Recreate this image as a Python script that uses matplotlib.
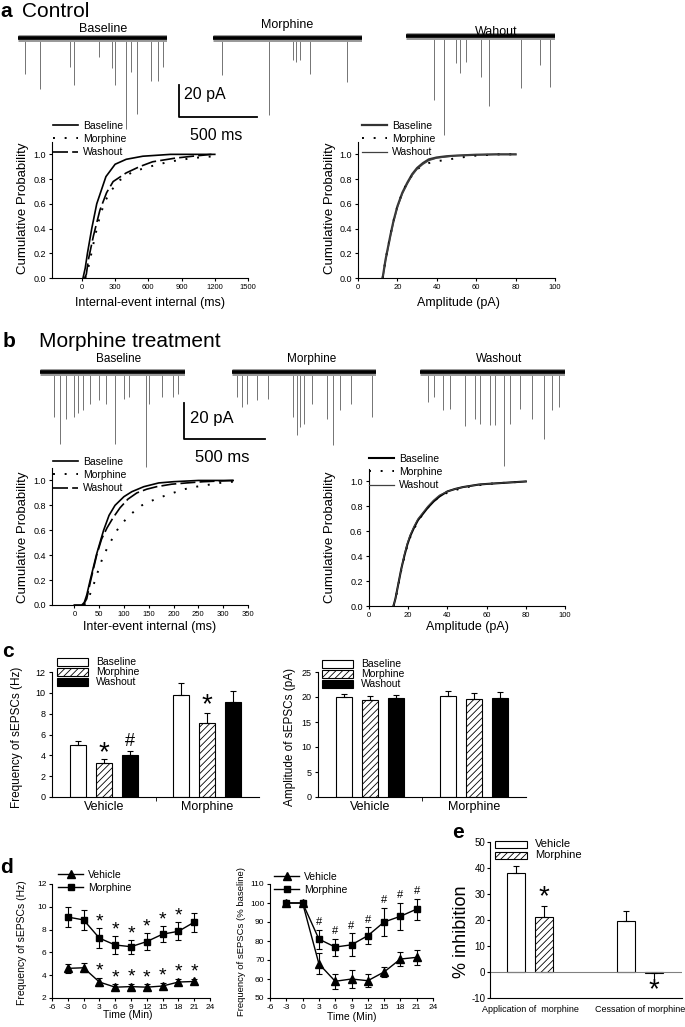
import numpy as np
import matplotlib.pyplot as plt
from matplotlib.patches import Rectangle
from matplotlib.lines import Line2D
from matplotlib.ticker import FormatStrFormatter

plt.rcParams['font.family'] = ['Liberation Sans', 'DejaVu Sans']
plt.rcParams['hatch.linewidth'] = 0.6
plt.rcParams['axes.linewidth'] = 0.8
plt.rcParams['axes.facecolor'] = 'none'
plt.rcParams['axes.unicode_minus'] = False

W, H = 685, 1027

conds = ['Baseline', 'Morphine', 'Washout']

# ---- sample sweeps: event time (ms from sweep start), event amplitude (pA)
a_base_t = [51, 147, 338, 360, 520, 605, 624, 698, 726, 768, 858, 900, 934]
a_base_amp = [22.7, 31.7, 18, 29.6, 11.9, 19, 29.6, 56.7, 21, 47.3, 26.9, 26.9, 18]
a_mor_t = [62, 360, 512, 535, 562, 624, 858]
a_mor_amp = [23.3, 48.3, 14, 15, 14, 22.3, 27.5]
a_wash_t = [183, 245, 323, 351, 385, 483, 534, 739, 863, 928]
a_wash_amp = [40, 62, 17, 23.3, 16, 25.4, 44, 32.7, 18, 32]

b_base_t = [81, 124, 157, 205, 232, 265, 306, 360, 406, 460, 514, 549, 652, 671, 752, 820, 847]
b_base_amp = [25, 39.8, 26, 25, 23, 21, 17.6, 15.7, 17.6, 39.8, 14.8, 13.9, 52.8, 17.6, 13.9, 13.9, 12]
b_mor_t = [32, 65, 92, 154, 227, 379, 406, 425, 444, 498, 588, 623, 669, 736, 866]
b_mor_amp = [13.9, 19.4, 17.6, 15.7, 14.8, 25, 35.2, 30.6, 28.7, 17.6, 25.9, 40.7, 21.3, 17.6, 25]
b_wash_t = [46, 86, 141, 181, 276, 336, 371, 433, 460, 520, 555, 614, 688, 764, 812, 858]
b_wash_amp = [16.7, 13.9, 21.3, 20.4, 30, 25.9, 28.7, 29.6, 29.6, 52, 28.7, 20.4, 25.9, 37, 21.3, 19.4]

# ---- cumulative distributions
a_isi_base_x = [10, 30, 50, 89, 134, 217, 300, 400, 550, 800, 1200]
a_isi_base_y = [0, 0.08, 0.2, 0.4, 0.6, 0.82, 0.92, 0.96, 0.985, 1.0, 1.0]
a_isi_mor_x = [30, 45, 74, 119, 163, 208, 267, 341, 460, 608, 786, 994, 1200]
a_isi_mor_y = [0, 0.03, 0.15, 0.34, 0.5, 0.62, 0.71, 0.79, 0.86, 0.9, 0.94, 0.97, 0.985]
a_isi_wash_x = [25, 40, 59, 104, 163, 223, 282, 400, 519, 638, 846, 1000, 1170]
a_isi_wash_y = [0, 0.03, 0.15, 0.34, 0.55, 0.69, 0.78, 0.85, 0.9, 0.94, 0.97, 0.985, 1.0]

a_amp_x = [12.5, 13, 14, 15, 16.5, 18, 20, 22.5, 25, 27.5, 30, 33, 36, 40, 45, 50, 60, 70, 80]
a_amp_base_y = [0, 0.05, 0.15, 0.23, 0.35, 0.46, 0.58, 0.69, 0.77, 0.84, 0.89, 0.93, 0.96, 0.975, 0.985, 0.99, 0.997, 1.0, 1.0]
a_amp_mor_y = [0, 0.05, 0.15, 0.23, 0.35, 0.46, 0.58, 0.69, 0.77, 0.83, 0.88, 0.91, 0.93, 0.945, 0.955, 0.97, 0.99, 1.0, 1.0]
a_amp_wash_y = [0, 0.04, 0.14, 0.22, 0.34, 0.45, 0.57, 0.68, 0.76, 0.83, 0.88, 0.92, 0.95, 0.97, 0.98, 0.99, 0.997, 1.0, 1.0]

b_isi_base_x = [0, 15, 20, 25, 32, 45, 59, 70, 82, 100, 116, 140, 170, 200, 250, 320]
b_isi_base_y = [0, 0.0, 0.02, 0.08, 0.2, 0.41, 0.6, 0.72, 0.8, 0.87, 0.91, 0.95, 0.98, 0.99, 1.0, 1.0]
b_isi_mor_x = [20, 28, 35, 42, 50, 59, 72, 86, 96, 106, 120, 136, 152, 169, 185, 199, 222, 246, 270, 293, 320]
b_isi_mor_y = [0, 0.05, 0.12, 0.2, 0.3, 0.4, 0.5, 0.6, 0.65, 0.7, 0.75, 0.8, 0.83, 0.86, 0.88, 0.9, 0.93, 0.95, 0.965, 0.98, 0.99]
b_isi_wash_x = [18, 25, 32, 45, 55, 66, 78, 92, 108, 126, 146, 166, 196, 226, 260, 320]
b_isi_wash_y = [0, 0.05, 0.18, 0.4, 0.53, 0.62, 0.7, 0.78, 0.85, 0.9, 0.93, 0.95, 0.97, 0.98, 0.99, 1.0]

b_amp_x = [12.5, 13.5, 15, 16.5, 18, 19.5, 21, 23, 25, 27.5, 30, 33, 36, 40, 44, 48, 52, 56, 60, 70, 80]
b_amp_base_y = [0, 0.06, 0.18, 0.3, 0.4, 0.49, 0.56, 0.63, 0.69, 0.74, 0.79, 0.84, 0.88, 0.92, 0.94, 0.955, 0.965, 0.975, 0.98, 0.99, 1.0]
b_amp_mor_y = [0, 0.05, 0.17, 0.29, 0.39, 0.48, 0.55, 0.62, 0.68, 0.74, 0.79, 0.84, 0.88, 0.91, 0.93, 0.95, 0.96, 0.97, 0.98, 0.99, 1.0]
b_amp_wash_y = [0, 0.06, 0.18, 0.3, 0.41, 0.5, 0.57, 0.64, 0.7, 0.75, 0.8, 0.85, 0.89, 0.92, 0.94, 0.955, 0.965, 0.975, 0.98, 0.99, 1.0]

# ---- c: mean +- SEM
groups = ['Vehicle', 'Morphine']
freq_veh = [4.95, 3.3, 4.05]
freq_veh_err = [0.45, 0.35, 0.38]
freq_mor = [9.8, 7.1, 9.15]
freq_mor_err = [1.15, 1.0, 1.0]
amp_veh = [20.1, 19.4, 19.75]
amp_veh_err = [0.6, 0.85, 0.65]
amp_mor = [20.15, 19.65, 19.9]
amp_mor_err = [1.1, 1.1, 1.2]

# ---- d: time course
time_min = [-3, 0, 3, 6, 9, 12, 15, 18, 21]
d_veh_hz = [4.6, 4.65, 3.4, 2.95, 3.0, 2.95, 3.05, 3.4, 3.45]
d_veh_hz_err = [0.4, 0.4, 0.35, 0.25, 0.25, 0.25, 0.25, 0.25, 0.25]
d_mor_hz = [9.1, 8.85, 7.25, 6.65, 6.5, 6.95, 7.6, 7.85, 8.65]
d_mor_hz_err = [0.9, 0.9, 0.85, 0.75, 0.6, 0.75, 0.7, 0.8, 0.85]
d_veh_pct = [100, 100, 68, 58.8, 60, 59.1, 63.7, 70.5, 71.4]
d_veh_pct_err = [0, 0, 5.5, 4, 4.5, 3.5, 2.5, 3.5, 4]
d_mor_pct = [100, 100, 81, 76.8, 78, 82.8, 90, 93, 96.8]
d_mor_pct_err = [0, 0, 5, 4.5, 6, 4.5, 7.5, 7, 5.5]

# ---- e: % inhibition
e_groups = ['Application of  morphine', 'Cessation of morphine']
e_veh = [37.9, 19.8]
e_veh_err = [2.9, 3.5]
e_mor = [21.0, -0.3]
e_mor_err = [4.4, 4.0]

fig = plt.figure(figsize=(W / 100, H / 100), dpi=100)


def ax_px(x0, y0, x1, y1):
    return fig.add_axes([x0 / W, 1 - y1 / H, (x1 - x0) / W, (y1 - y0) / H])


def ftext(x, y, s, **kw):
    fig.text(x / W, 1 - y / H, s, **kw)


def trace(x0, yb, t, amp, dur, px_ms, px_pa):
    ax = ax_px(x0, yb - 15, x0 + dur * px_ms, yb + 110)
    ax.set_xlim(0, dur)
    ax.set_ylim(-110 / px_pa, 15 / px_pa)
    ax.axis('off')
    ax.vlines(t, -np.array(amp), 0, color='0.45', lw=0.7, clip_on=False)
    ax.plot([0, dur], [0, 0], color='0.6', lw=5, solid_capstyle='butt')
    ax.plot([0, dur], [0, 0], color='k', lw=2.6, solid_capstyle='butt')


def scalebar(x0, yb, px_ms, px_pa):
    ax = ax_px(x0, yb - 20 * px_pa, x0 + 500 * px_ms, yb)
    ax.set_xlim(0, 500)
    ax.set_ylim(0, 20)
    ax.axis('off')
    ax.plot([0, 0, 500], [20, 0, 0], color='k', lw=1.3, clip_on=False)


solid = dict(color='k', lw=1.2, ls='-')
dotted = dict(color='k', lw=1.4, ls=(0, (1, 5)))
dashed = dict(color='k', lw=1.2, ls=(0, (9, 2.5)))
thin = dict(color='0.25', lw=0.9, ls='-')


def cum_panel(box, xlim, xticks, curves, styles, leg_xy):
    ax = ax_px(*box)
    for (x, y), st in zip(curves, styles):
        ax.plot(x, y, **st)
    ax.set_xlim(xlim)
    ax.set_ylim(0, 1.1)
    ax.set_xticks(xticks)
    ax.set_yticks(np.arange(0, 1.01, 0.2))
    ax.yaxis.set_major_formatter(FormatStrFormatter('%.1f'))
    ax.spines[['top', 'right']].set_visible(False)
    ax.tick_params(axis='y', labelsize=6.5, length=2.5, pad=2)
    ax.tick_params(axis='x', labelsize=5.5, length=2.5, pad=2)
    handles = [Line2D([], [], **st) for st in styles]
    ax.legend(handles, conds, loc='upper left',
              bbox_to_anchor=(leg_xy[0] / W, 1 - leg_xy[1] / H),
              bbox_transform=fig.transFigure, frameon=False, fontsize=7.5,
              handlelength=2.4, handletextpad=0.5, labelspacing=0.3,
              borderpad=0, borderaxespad=0)
    return ax


bar_styles = [dict(facecolor='white', edgecolor='k'),
              dict(facecolor='white', edgecolor='k', hatch='/////'),
              dict(facecolor='k', edgecolor='k')]


def box_legend(x, ys, labels, styles, fs, bw=31, bh=8):
    for y, lab, st in zip(ys, labels, styles):
        fig.add_artist(Rectangle((x / W, 1 - (y + bh / 2) / H), bw / W, bh / H,
                                 transform=fig.transFigure, lw=0.8, **st))
        ftext(x + bw + 8, y, lab, fontsize=fs, va='center', ha='left')


# ================= a =================
ftext(0, 17, 'a', fontsize=15, fontweight='bold', va='baseline')
ftext(22, 17, 'Control', fontsize=15, va='baseline')

cum_panel((52, 142, 248, 278), (-270, 1500), np.arange(0, 1501, 300),
          [(a_isi_base_x, a_isi_base_y), (a_isi_mor_x, a_isi_mor_y), (a_isi_wash_x, a_isi_wash_y)],
          [solid, dotted, dashed], (53, 121))
cum_panel((358, 142, 555, 278), (0, 100), np.arange(0, 101, 20),
          [(a_amp_x, a_amp_base_y), (a_amp_x, a_amp_mor_y), (a_amp_x, a_amp_wash_y)],
          [dict(color='0.2', lw=1.6), dotted, thin], (362, 121))
for x in (23, 330):
    ftext(x, 208, 'Cumulative Probability', fontsize=9.5, rotation=90, ha='center', va='center')
ftext(150, 303, 'Internal-event internal (ms)', fontsize=9, ha='center', va='center')
ftext(458, 303, 'Amplitude (pA)', fontsize=9, ha='center', va='center')

pa_ms, pa_pa = 78 / 500, 32 / 20
for (x0, yb), t, amp in zip([(17.5, 38), (212.7, 38), (405.7, 36)],
                            [a_base_t, a_mor_t, a_wash_t], [a_base_amp, a_mor_amp, a_wash_amp]):
    trace(x0, yb, t, amp, 960, pa_ms, pa_pa)
for (x, y), lab in zip([(103, 29), (287, 25), (496, 32)], ['Baseline', 'Morphine', 'Wahout']):
    ftext(x, y, lab, fontsize=9, ha='center', va='center')
scalebar(179, 117, pa_ms, pa_pa)
ftext(184, 94, '20 pA', fontsize=11.5, va='center')
ftext(190, 136, '500 ms', fontsize=11.5, va='center')

# ================= b =================
ftext(3, 347, 'b', fontsize=15, fontweight='bold', va='baseline')
ftext(39, 347, 'Morphine treatment', fontsize=15, va='baseline')

cum_panel((52, 468, 248, 605), (-45, 350), np.arange(0, 351, 50),
          [(b_isi_base_x, b_isi_base_y), (b_isi_mor_x, b_isi_mor_y), (b_isi_wash_x, b_isi_wash_y)],
          [solid, dotted, dashed], (53, 457))
cum_panel((369, 469, 565, 606), (0, 100), np.arange(0, 101, 20),
          [(b_amp_x, b_amp_base_y), (b_amp_x, b_amp_mor_y), (b_amp_x, b_amp_wash_y)],
          [dict(color='k', lw=1.5), dotted, thin], (369, 454))
for x in (23, 330):
    ftext(x, 537, 'Cumulative Probability', fontsize=9.5, rotation=90, ha='center', va='center')
ftext(150, 627, 'Inter-event internal (ms)', fontsize=9, ha='center', va='center')
ftext(467, 627, 'Amplitude (pA)', fontsize=9, ha='center', va='center')

pb_ms, pb_pa = 81 / 500, 36 / 20
for x0, t, amp in zip([40.4, 231.6, 420.2], [b_base_t, b_mor_t, b_wash_t],
                      [b_base_amp, b_mor_amp, b_wash_amp]):
    trace(x0, 372, t, amp, 893, pb_ms, pb_pa)
for x, lab in zip([119, 312, 499], ['Baseline', 'Morphine', 'Washout']):
    ftext(x, 359, lab, fontsize=8.5, ha='center', va='center')
scalebar(184, 439, pb_ms, pb_pa)
ftext(190, 418, '20 pA', fontsize=12, va='center')
ftext(195, 457, '500 ms', fontsize=12, va='center')

# ================= c =================
ftext(2, 657, 'c', fontsize=15, fontweight='bold', va='baseline')


def bar_panel(box, ylim, yticks, veh, veh_err, mor, mor_err, ylabel, ylab_x):
    ax = ax_px(*box)
    off, bw = 0.251, 0.155
    for i, st in enumerate(bar_styles):
        xs = np.array([0, 1]) + (i - 1) * off
        vals = [veh[i], mor[i]]
        errs = [veh_err[i], mor_err[i]]
        ax.bar(xs, vals, bw, lw=0.8, **st)
        ax.errorbar(xs, vals, yerr=[[0, 0], errs], fmt='none', ecolor='k',
                    elinewidth=0.8, capsize=2.5, capthick=0.8)
    ax.set_xlim(-0.5, 1.5)
    ax.set_ylim(*ylim)
    ax.set_yticks(yticks)
    ax.set_xticks([0, 1])
    ax.set_xticklabels(groups, fontsize=9)
    ax.set_xticks([0.5], minor=True)
    ax.tick_params(axis='x', which='major', length=0, pad=3)
    ax.tick_params(axis='x', which='minor', length=3)
    ax.tick_params(axis='y', labelsize=6.5, length=2.5, pad=2)
    ax.spines[['top', 'right']].set_visible(False)
    ftext(ylab_x, 737, ylabel, fontsize=8.5, rotation=90, ha='center', va='center')
    return ax


axc1 = bar_panel((52, 672, 259, 797), (0, 12), range(0, 13, 2), freq_veh, freq_veh_err,
                 freq_mor, freq_mor_err, 'Frequency of sEPSCs (Hz)', 17)
axc1.text(0, freq_veh[1] + freq_veh_err[1] + 0.6, '*', fontsize=20, ha='center', va='center')
axc1.text(0.251, freq_veh[2] + freq_veh_err[2] + 0.85, '#', fontsize=13, ha='center', va='center')
axc1.text(1, freq_mor[1] + freq_mor_err[1] + 0.75, '*', fontsize=20, ha='center', va='center')
axc2 = bar_panel((318, 672, 526, 797), (0, 25), range(0, 26, 5), amp_veh, amp_veh_err,
                 amp_mor, amp_mor_err, 'Amplitude of sEPSCs (pA)', 290)
box_legend(57, [662, 672, 682], conds, bar_styles, 7.5)
box_legend(322, [664, 674, 684], conds, bar_styles, 7.5)

# ================= d =================
ftext(0, 873, 'd', fontsize=15, fontweight='bold', va='baseline')


def time_panel(box, ylim, yticks, veh, veh_err, mor, mor_err, leg_xy):
    ax = ax_px(*box)
    ax.errorbar(time_min, veh, yerr=veh_err, color='k', marker='^', ms=5.5, lw=1,
                elinewidth=0.8, capsize=2, capthick=0.8, label='Vehicle')
    ax.errorbar(time_min, mor, yerr=mor_err, color='k', marker='s', ms=5, lw=1,
                elinewidth=0.8, capsize=2, capthick=0.8, label='Morphine')
    ax.set_xlim(-6, 24)
    ax.set_ylim(*ylim)
    ax.set_xticks(range(-6, 25, 3))
    ax.set_yticks(yticks)
    ax.spines[['top', 'right']].set_visible(False)
    ax.tick_params(labelsize=6, length=2.5, pad=1.5)
    handles = [Line2D([], [], color='k', marker='^', ms=5.5, lw=1),
               Line2D([], [], color='k', marker='s', ms=5, lw=1)]
    ax.legend(handles, ['Vehicle', 'Morphine'], loc='upper left',
              bbox_to_anchor=(leg_xy[0] / W, 1 - leg_xy[1] / H),
              bbox_transform=fig.transFigure, frameon=False, fontsize=7.5,
              handlelength=2.4, handletextpad=0.5, labelspacing=0.3,
              borderpad=0, borderaxespad=0)
    return ax


axd1 = time_panel((52, 884, 210, 998), (2, 12), range(2, 13, 2),
                  d_veh_hz, d_veh_hz_err, d_mor_hz, d_mor_hz_err, (58, 870))
for i in range(2, 9):
    axd1.text(time_min[i], d_veh_hz[i] + d_veh_hz_err[i] + 0.6, '*', fontsize=14,
              ha='center', va='center')
for i in range(2, 8):
    axd1.text(time_min[i], d_mor_hz[i] + d_mor_hz_err[i] + 0.55, '*', fontsize=14,
              ha='center', va='center')
ftext(22, 943, 'Frequency of sEPSCs (Hz)', fontsize=7.5, rotation=90, ha='center', va='center')
ftext(128, 1015, 'Time (Min)', fontsize=7.5, ha='center', va='center')

axd2 = time_panel((270, 884, 433, 998), (50, 110), range(50, 111, 10),
                  d_veh_pct, d_veh_pct_err, d_mor_pct, d_mor_pct_err, (274, 872))
for i in range(2, 9):
    axd2.text(time_min[i], d_mor_pct[i] + d_mor_pct_err[i] + 4, '#', fontsize=8,
              ha='center', va='center')
ftext(241, 942, 'Frequency of sEPSCs (% baseline)', fontsize=6.8, rotation=90,
      ha='center', va='center')
ftext(352, 1017, 'Time (Min)', fontsize=7.5, ha='center', va='center')

# ================= e =================
ftext(452, 838, 'e', fontsize=15, fontweight='bold', va='baseline')
axe = ax_px(490, 842, 682, 998)
eoff, ebw = 0.127, 0.16
xs_v = np.arange(2) - eoff
xs_m = np.arange(2) + eoff
axe.axhline(0, color='0.5', lw=0.8)
axe.bar(xs_v, e_veh, ebw, lw=0.8, **bar_styles[0])
axe.bar(xs_m, e_mor, ebw, lw=0.8, **bar_styles[1])
axe.errorbar(xs_v, e_veh, yerr=[[0, 0], e_veh_err], fmt='none', ecolor='k',
             elinewidth=0.8, capsize=2.5, capthick=0.8)
axe.errorbar(xs_m, e_mor, yerr=[[0, e_mor_err[1]], [e_mor_err[0], 0]], fmt='none',
             ecolor='k', elinewidth=0.8, capsize=2.5, capthick=0.8)
axe.text(xs_m[0], e_mor[0] + e_mor_err[0] + 3.4, '*', fontsize=20, ha='center', va='center')
axe.text(xs_m[1], e_mor[1] - e_mor_err[1] - 2.6, '*', fontsize=20, ha='center', va='center')
axe.set_xlim(-0.3636, 1.3818)
axe.set_ylim(-10, 50)
axe.set_yticks(range(-10, 51, 10))
axe.set_xticks([0, 1])
axe.set_xticklabels(e_groups, fontsize=6.5)
axe.tick_params(axis='x', length=0, pad=5)
axe.tick_params(axis='y', labelsize=7, length=2, pad=1.5)
axe.spines[['top', 'right']].set_visible(False)
ftext(461, 932, '% inhibition', fontsize=13, rotation=90, ha='center', va='center')
box_legend(495, [844, 855], ['Vehicle', 'Morphine'], bar_styles[:2], 8, bw=32, bh=7)

fig.savefig('out.png', dpi=100)
